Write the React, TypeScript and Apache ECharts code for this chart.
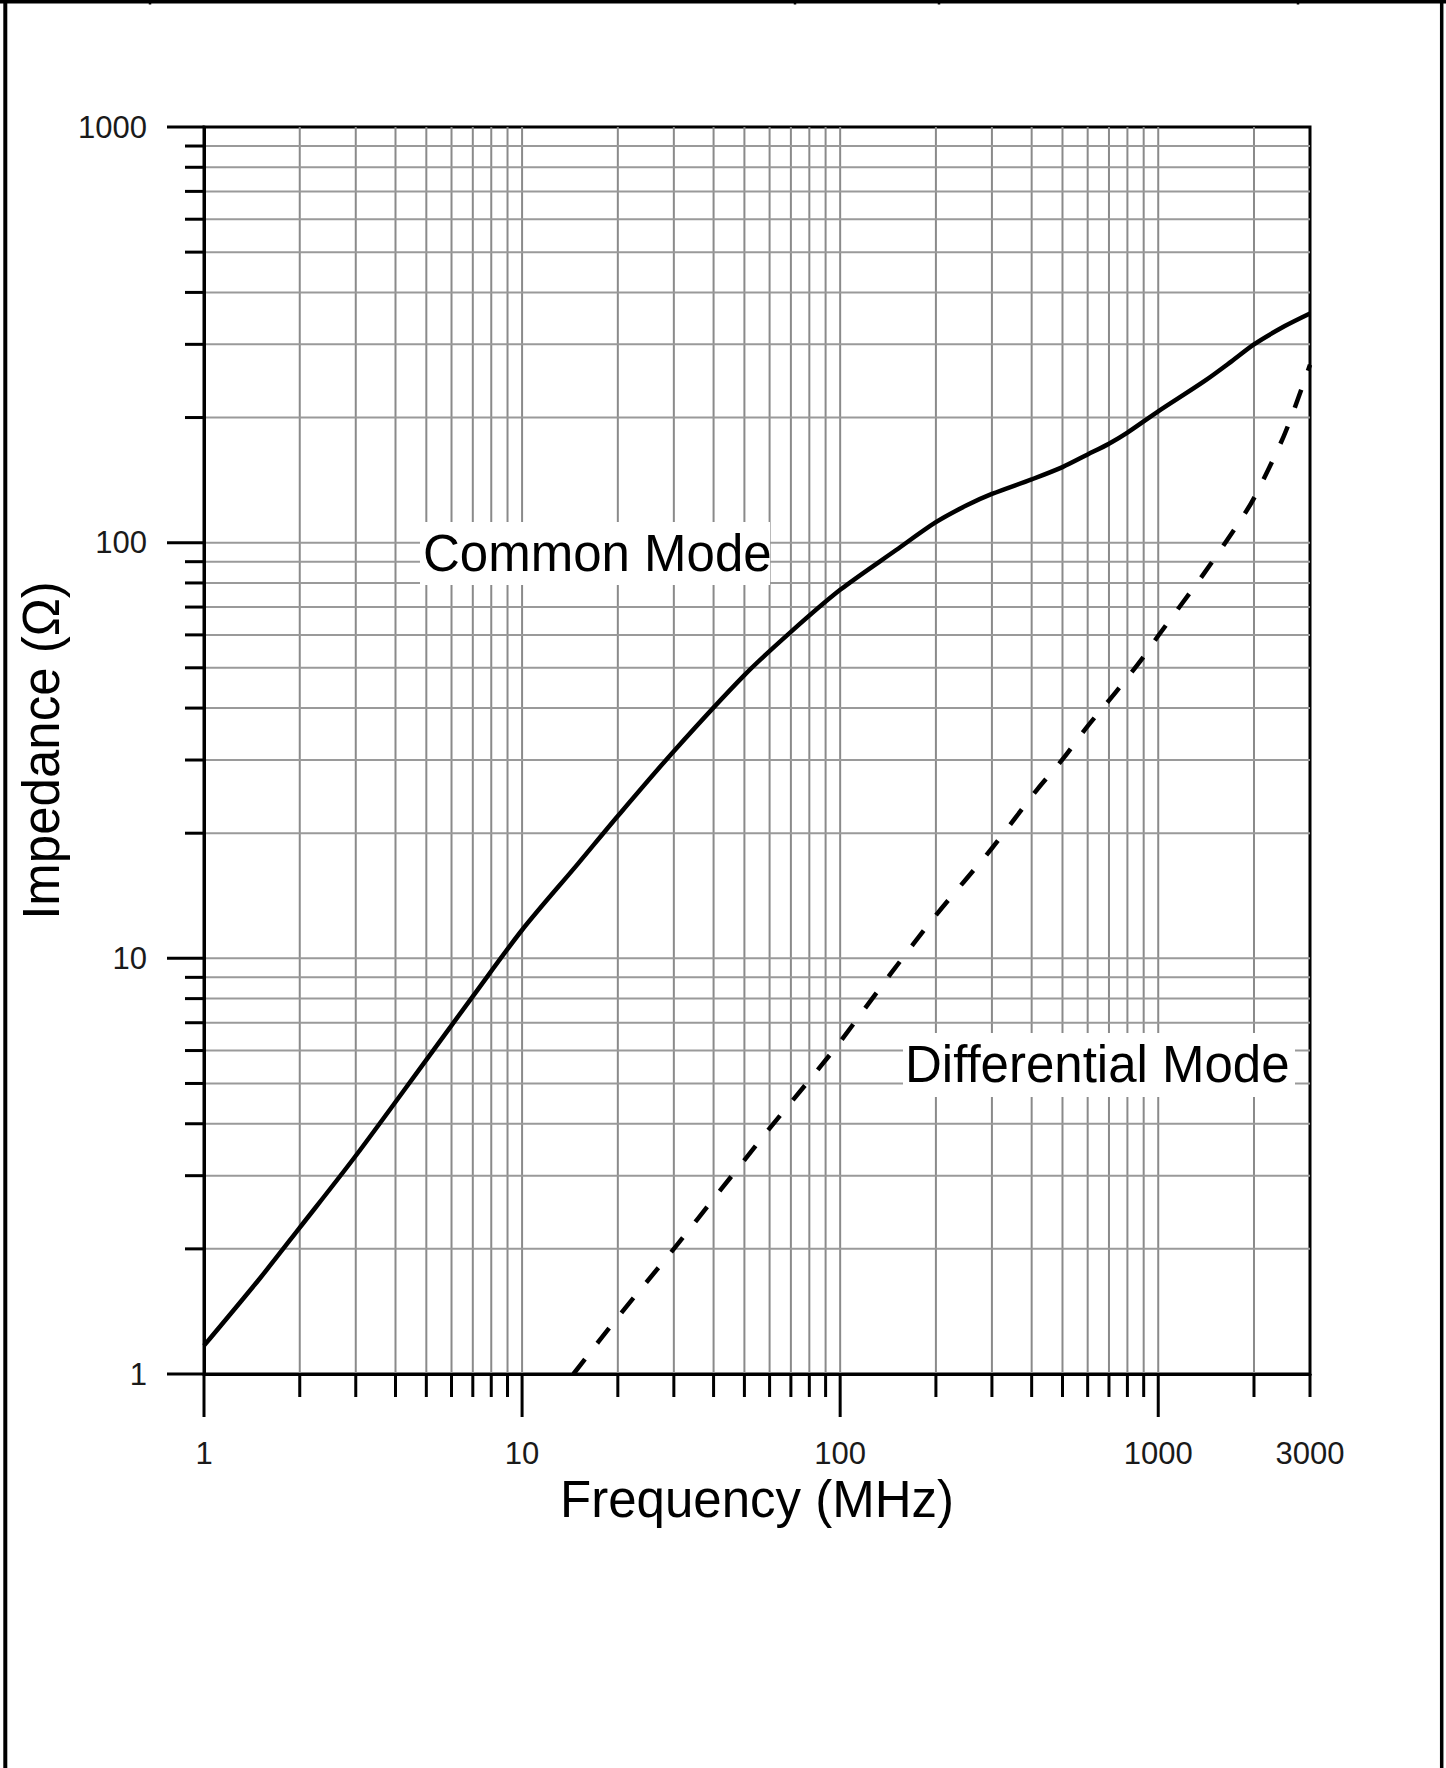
import React, { useEffect, useRef } from 'react';
import * as echarts from 'echarts';

// ---- Data ----
const commonFreqMHz = [1, 1.5, 2, 3, 5, 7, 10, 15, 20, 30, 50, 70, 100, 150, 200, 250, 300, 400, 500, 600, 700, 800, 1000, 1400, 1700, 2000, 2500, 3000];
const commonModeOhm = [1.17, 1.7, 2.25, 3.35, 5.7, 8.1, 11.7, 16.9, 22, 31.5, 48, 61, 77, 96, 112, 123, 131, 142, 152, 163, 173, 184, 207, 245, 273, 300, 332, 356];

const diffFreqMHz = [14.5, 20, 30, 42.5, 50, 60, 71, 86.5, 100, 144, 200, 300, 415, 500, 600, 741, 900, 1000, 1388, 1768, 2000, 2478, 2831, 3000];
const differentialModeOhm = [1, 1.37, 2.0, 2.8, 3.27, 3.9, 4.56, 5.48, 6.3, 9.17, 12.7, 18.4, 25.4, 30.1, 36.2, 44.0, 53.2, 59.7, 84, 110, 128, 180, 236, 268];

// ---- Axis tick values ----
const X_MIN = 1;
const X_MAX = 3000;
const Y_MIN = 1;
const Y_MAX = 1000;
const xMajorTicks = [1, 10, 100, 1000];
const xMinorTicks = [2, 3, 4, 5, 6, 7, 8, 9, 20, 30, 40, 50, 60, 70, 80, 90, 200, 300, 400, 500, 600, 700, 800, 900, 2000, 3000];
const yMajorTicks = [1, 10, 100, 1000];
const yMinorTicks = [2, 3, 4, 5, 6, 7, 8, 9, 20, 30, 40, 50, 60, 70, 80, 90, 200, 300, 400, 500, 600, 700, 800, 900];

const xLabel = 'Frequency (MHz)';
const yLabel = 'Impedance (\u03A9)';
const commonLabel = 'Common Mode';
const diffLabel = 'Differential Mode';

const FONT = '"Liberation Sans", Arial, Helvetica, sans-serif';

export default function App() {
  const ref = useRef<HTMLDivElement>(null);

  useEffect(() => {
    if (!ref.current) return;
    const chart = echarts.init(ref.current, null, { renderer: 'svg' });

    const xTickData = [...xMajorTicks, ...xMinorTicks].map((v) => [v, Y_MIN]);
    const yTickData = [...yMajorTicks, ...yMinorTicks].map((v) => [X_MIN, v]);

    const option: any = {
      animation: false,
      backgroundColor: '#ffffff',
      grid: {
        left: 204,
        right: 136,
        top: 127,
        bottom: 394,
        show: true,
        borderColor: '#000',
        borderWidth: 3,
        backgroundColor: 'transparent',
      },
      xAxis: {
        type: 'log',
        logBase: 10,
        min: X_MIN,
        max: X_MAX,
        z: 10,
        name: xLabel,
        nameLocation: 'middle',
        nameGap: 100,
        nameTextStyle: { fontSize: 51, color: '#000', fontFamily: FONT },
        axisLine: { show: true, lineStyle: { color: '#000', width: 3 } },
        axisTick: { show: false },
        splitLine: { show: false },
        axisLabel: {
          show: true,
          margin: 64,
          fontSize: 31,
          color: '#1a1a1a',
          fontFamily: FONT,
          showMinLabel: true,
          showMaxLabel: true,
          formatter: (v: number) => String(Math.round(v)),
        },
      },
      yAxis: {
        type: 'log',
        logBase: 10,
        min: Y_MIN,
        max: Y_MAX,
        z: 10,
        name: yLabel,
        nameLocation: 'middle',
        nameGap: 130,
        nameRotate: 90,
        nameTextStyle: { fontSize: 51, color: '#000', fontFamily: FONT },
        axisLine: { show: true, lineStyle: { color: '#000', width: 3 } },
        axisTick: { show: false },
        splitLine: { show: false },
        axisLabel: {
          show: true,
          margin: 57,
          fontSize: 31,
          color: '#1a1a1a',
          fontFamily: FONT,
          showMinLabel: true,
          showMaxLabel: true,
          formatter: (v: number) => String(Math.round(v)),
        },
      },
      series: [
        {
          type: 'custom',
          name: 'xGrid',
          silent: true,
          z: 1,
          clip: false,
          data: xTickData,
          renderItem: (params: any, api: any) => {
            const v = api.value(0);
            const p0 = api.coord([v, Y_MIN]);
            const p1 = api.coord([v, Y_MAX]);
            const major = xMajorTicks.indexOf(v) >= 0;
            const children: any[] = [];
            if (v > X_MIN && v < X_MAX) {
              children.push({
                type: 'line',
                shape: { x1: p0[0], y1: p0[1], x2: p1[0], y2: p1[1] },
                style: { stroke: '#8a8a8a', lineWidth: 2 },
              });
            }
            children.push({
              type: 'line',
              shape: { x1: p0[0], y1: p0[1], x2: p0[0], y2: p0[1] + (major ? 43 : 23) },
              style: { stroke: '#000', lineWidth: 3 },
            });
            return { type: 'group', children };
          },
        },
        {
          type: 'custom',
          name: 'yGrid',
          silent: true,
          z: 1,
          clip: false,
          data: yTickData,
          renderItem: (params: any, api: any) => {
            const v = api.value(1);
            const p0 = api.coord([X_MIN, v]);
            const p1 = api.coord([X_MAX, v]);
            const major = yMajorTicks.indexOf(v) >= 0;
            const children: any[] = [];
            if (v > Y_MIN && v < Y_MAX) {
              children.push({
                type: 'line',
                shape: { x1: p0[0], y1: p0[1], x2: p1[0], y2: p1[1] },
                style: { stroke: '#9a9a9a', lineWidth: 2 },
              });
            }
            children.push({
              type: 'line',
              shape: { x1: p0[0] - (major ? 37 : 19), y1: p0[1], x2: p0[0], y2: p0[1] },
              style: { stroke: '#000', lineWidth: 3 },
            });
            return { type: 'group', children };
          },
        },
        {
          type: 'line',
          name: commonLabel,
          data: commonFreqMHz.map((f, i) => [f, commonModeOhm[i]]),
          showSymbol: false,
          symbol: 'none',
          smooth: 0.3,
          z: 5,
          lineStyle: { color: '#000', width: 4.5, join: 'round' },
        },
        {
          type: 'line',
          name: diffLabel,
          data: diffFreqMHz.map((f, i) => [f, differentialModeOhm[i]]),
          showSymbol: false,
          symbol: 'none',
          smooth: 0.3,
          z: 5,
          lineStyle: { color: '#000', width: 4.5, type: [19, 20], cap: 'butt', join: 'round' },
        },
      ],
      graphic: [
        // outer frame
        { type: 'line', z: 200, shape: { x1: 0, y1: 1.7, x2: 1446, y2: 1.7 }, style: { stroke: '#000', lineWidth: 3.5 } },
        { type: 'line', z: 200, shape: { x1: 5.3, y1: 0, x2: 5.3, y2: 1768 }, style: { stroke: '#000', lineWidth: 4 } },
        { type: 'line', z: 200, shape: { x1: 1441.7, y1: 0, x2: 1441.7, y2: 1768 }, style: { stroke: '#000', lineWidth: 3.5 } },
        { type: 'line', z: 200, shape: { x1: 150, y1: 0, x2: 150, y2: 4.5 }, style: { stroke: '#000', lineWidth: 2.5 } },
        { type: 'line', z: 200, shape: { x1: 795, y1: 0, x2: 795, y2: 4.5 }, style: { stroke: '#000', lineWidth: 2.5 } },
        { type: 'line', z: 200, shape: { x1: 939, y1: 0, x2: 939, y2: 4.5 }, style: { stroke: '#000', lineWidth: 2.5 } },
        { type: 'line', z: 200, shape: { x1: 1298, y1: 0, x2: 1298, y2: 4.5 }, style: { stroke: '#000', lineWidth: 2.5 } },
        // annotations
        { type: 'rect', z: 100, shape: { x: 420, y: 522, width: 350, height: 63 }, style: { fill: '#fff' } },
        {
          type: 'text', z: 101, x: 423, y: 553,
          style: { text: commonLabel, fontSize: 51, fontFamily: FONT, fill: '#000', align: 'left', verticalAlign: 'middle' },
        },
        { type: 'rect', z: 100, shape: { x: 903, y: 1033, width: 392, height: 64 }, style: { fill: '#fff' } },
        {
          type: 'text', z: 101, x: 905, y: 1064,
          style: { text: diffLabel, fontSize: 51, fontFamily: FONT, fill: '#000', align: 'left', verticalAlign: 'middle' },
        },
      ],
    };

    chart.setOption(option);
    return () => {
      chart.dispose();
    };
  }, []);

  return (
    <div
      ref={ref}
      style={{ position: 'absolute', left: 0, top: 0, width: 1446, height: 1768 }}
    />
  );
}
